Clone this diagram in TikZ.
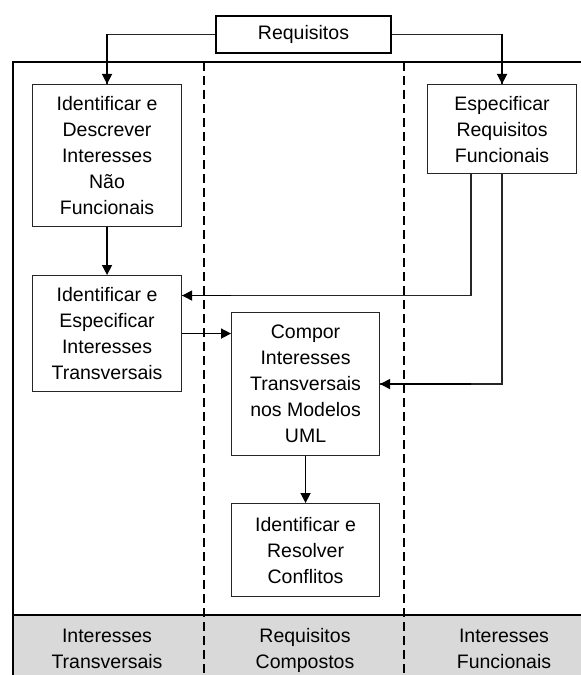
\documentclass[tikz,border=0pt]{standalone}
\usepackage{fontspec}
\setmainfont{Liberation Sans}
\usetikzlibrary{arrows.meta}

\newcommand{\lnstrut}{\rule[-7.8bp]{0pt}{26bp}}

\tikzset{
  proc/.style={draw=black!85, line width=1.1bp, fill=white, align=center,
    inner sep=0pt, anchor=north west,
    font=\fontsize{19.5bp}{26bp}\selectfont},
  flow/.style={line width=1.5bp, -{Triangle[length=10bp,width=10bp]}},
  wire/.style={line width=1.3bp, draw=black!85},
  lane/.style={line width=2.3bp, dash pattern=on 9bp off 5bp},
  frameline/.style={line width=2.4bp},
  lanelabel/.style={align=center, inner sep=0pt, anchor=north,
    font=\fontsize{19.5bp}{26bp}\selectfont}
}

\begin{document}
\begin{tikzpicture}[x=1bp, y=-1bp]
  \useasboundingbox (0,0) rectangle (581,675);

  % swimlane frame with grey caption strip
  \fill[gray!30] (13,615) rectangle (590,680);
  \draw[frameline] (13,680) -- (13,62) -- (590,62);
  \draw[frameline] (13,615) -- (590,615);
  \draw[lane] (204,62) -- (204,680);
  \draw[lane] (404,62) -- (404,680);

  % process boxes
  \node[proc, draw=black, line width=2bp, minimum width=175bp, minimum height=37bp]
    (req) at (215,15) {Requisitos};
  \node[proc, minimum width=149bp, minimum height=142bp, text depth=-3bp] (ndesc) at (32,84)
    {Identificar e\\Descrever\\Interesses\\Não\\Funcionais};
  \node[proc, minimum width=149bp, minimum height=116bp] (espec) at (32,275)
    {Identificar e\\Especificar\\Interesses\\Transversais};
  \node[proc, minimum width=149bp, minimum height=89bp] (func) at (427,84)
    {Especificar\\Requisitos\\Funcionais};
  \node[proc, minimum width=148bp, minimum height=143bp] (compor) at (231,312)
    {Compor\\Interesses\\Transversais\\nos Modelos\\UML};
  \node[proc, minimum width=148bp, minimum height=93bp] (conf) at (231,503)
    {Identificar e\\Resolver\\Conflitos};

  % connectors
  \draw[wire] (req.west) -| (ndesc.north);
  \draw[flow] (ndesc.north |- req.west) -- (ndesc.north);
  \draw[wire] (req.east) -| (func.north);
  \draw[flow] (func.north |- req.east) -- (func.north);
  \draw[flow] (ndesc.south) -- (espec.north);
  \coordinate (fleft) at ([xshift=-31bp]func.south);
  \draw[wire] (fleft) |- ([yshift=38bp]espec.east);
  \draw[flow] ([yshift=38bp]espec.east -| compor.west) -- ([yshift=38bp]espec.east);
  \draw[wire] (func.south) |- (compor.east);
  \draw[flow] (compor.east -| fleft) -- (compor.east);
  \draw[flow] (espec.east) -- (espec.east -| compor.west);
  \draw[flow] (compor.south) -- (conf.north);

  % lane captions
  \node[lanelabel] (l1) at (107,624) {\lnstrut Interesses\\\lnstrut Transversais};
  \node[lanelabel] (l2) at (305,624) {\lnstrut Requisitos\\\lnstrut Compostos};
  \node[lanelabel] (l3) at (504,624) {\lnstrut Interesses\\\lnstrut Funcionais};
\end{tikzpicture}
\end{document}
